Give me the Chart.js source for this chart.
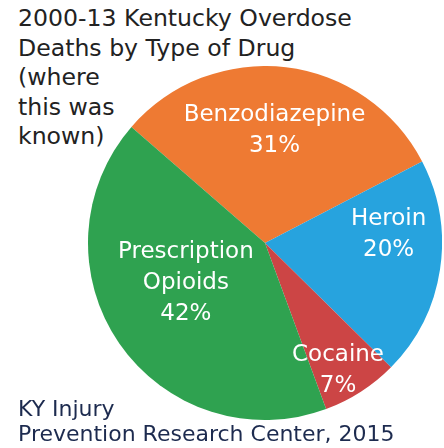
<!DOCTYPE html>
<html>
<head>
<meta charset="utf-8">
<script src="https://cdn.jsdelivr.net/npm/chart.js@4"></script>
<style>
  body { margin: 0; background: #fff; width: 444px; height: 448px; overflow: hidden; position: relative; font-family: "DejaVu Sans", sans-serif; }
  #titulo { position: absolute; left: 18px; top: 4px; font-size: 23.6px; line-height: 29.5px; color: #222; }
  #fonte { position: absolute; left: 18px; top: 396px; font-size: 22px; line-height: 25px; color: #1d2b4f; }
  #caixa { position: absolute; left: 88px; top: 66px; width: 354px; height: 354px; }
</style>
</head>
<body>
<div id="titulo">2000-13 Kentucky Overdose<br>Deaths by Type of Drug<br>(where<br>this was<br>known)</div>
<div id="caixa"><canvas id="grafico"></canvas></div>
<div id="fonte">KY Injury<br>Prevention Research Center, 2015</div>
<script>
// dados do gráfico
const drogas = ['Benzodiazepine', 'Heroin', 'Cocaine', 'Prescription Opioids'];
const percentuais = [31, 20, 7, 42];
const rotulos = [['Benzodiazepine', '31%'], ['Heroin', '20%'], ['Cocaine', '7%'], ['Prescription', 'Opioids', '42%']];

const cores = ['#ee7a33', '#27a3de', '#cc4545', '#2fa250'];

// onde colocar o texto em cada fatia (fração do raio, desvio do ângulo em graus)
const posRotulo = [[0.64, -2], [0.70, -12.6], [0.83, 3], [0.50, 8]];

const rotulosPlugin = {
  id: 'rotulos',
  afterDatasetsDraw(chart) {
    const ctx = chart.ctx;
    const meta = chart.getDatasetMeta(0);
    ctx.save();
    ctx.fillStyle = '#fff';
    ctx.font = '23px "DejaVu Sans", sans-serif';
    ctx.textAlign = 'center';
    ctx.textBaseline = 'middle';
    meta.data.forEach((arc, i) => {
      const p = arc.getProps(['x', 'y', 'startAngle', 'endAngle', 'outerRadius'], true);
      const ang = (p.startAngle + p.endAngle) / 2 + posRotulo[i][1] * Math.PI / 180;
      const r = p.outerRadius * posRotulo[i][0];
      const cx = p.x + Math.cos(ang) * r;
      const cy = p.y + Math.sin(ang) * r;
      const linhas = rotulos[i];
      const alt = 31;
      linhas.forEach((t, k) => {
        ctx.fillText(t, cx, cy + (k - (linhas.length - 1) / 2) * alt);
      });
    });
    ctx.restore();
  }
};

new Chart(document.getElementById('grafico'), {
  type: 'pie',
  data: {
    labels: drogas,
    datasets: [{
      data: percentuais,
      backgroundColor: cores,
      borderWidth: 0
    }]
  },
  options: {
    responsive: true,
    maintainAspectRatio: false,
    animation: false,
    rotation: -49,
    layout: { padding: 0 },
    plugins: {
      legend: { display: false },
      tooltip: { enabled: false }
    }
  },
  plugins: [rotulosPlugin]
});
</script>
</body>
</html>
